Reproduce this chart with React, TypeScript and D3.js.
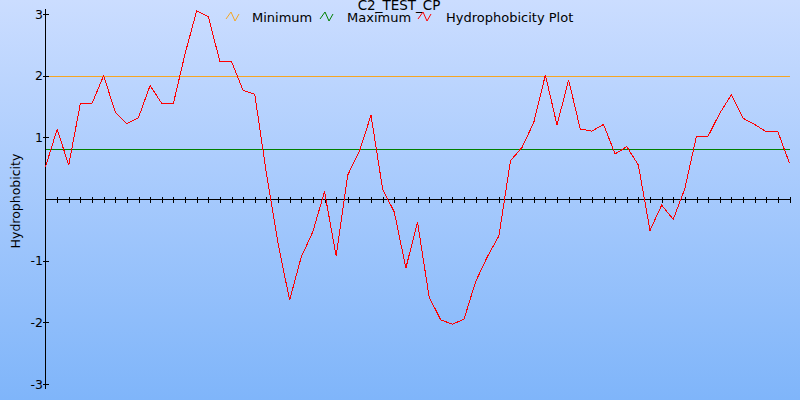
import React from "react";
import * as d3 from "d3";

const title = "C2_TEST_CP";
const yAxisLabel = "Hydrophobicity";
const legendLabels = ["Minimum", "Maximum", "Hydrophobicity Plot"];
const legendColors = ["#f5a623", "#008000", "#ff0000"];
const yTicks = [-3, -2, -1, 1, 2, 3];
const minimumLevel = 2.0;
const maximumLevel = 0.81;
const hydrophobicity = [
  0.52, 1.13, 0.55, 1.55, 1.55, 2.0, 1.41, 1.22, 1.32, 1.84,
  1.55, 1.55, 2.35, 3.05, 2.96, 2.23, 2.23, 1.76, 1.7, 0.42,
  -0.72, -1.64, -0.94, -0.53, 0.12, -0.92, 0.39, 0.77, 1.36, 0.16,
  -0.21, -1.12, -0.37, -1.59, -1.96, -2.03, -1.95, -1.34, -0.94, -0.6,
  0.62, 0.84, 1.24, 2.01, 1.2, 1.93, 1.135, 1.1, 1.21, 0.73,
  0.85, 0.55, -0.51, -0.1, -0.33, 0.17, 1.02, 1.02, 1.39, 1.69,
  1.31, 1.21, 1.09, 1.09, 0.58,
];

const W = 800;
const H = 400;
const FONT = "DejaVu Sans, Verdana, sans-serif";

export default function App() {
  const n = hydrophobicity.length;
  const x = d3.scaleLinear().domain([0, n - 1]).range([45.5, 789.5]);
  const y = d3.scaleLinear().domain([-3, 3]).range([384, 14]);
  const line = d3
    .line<number>()
    .x((_, i) => x(i))
    .y((d) => y(d));
  const y0 = Math.round(y(0)) + 0.5;
  const axisX = 45.5;
  const legendX = [226, 320, 418];
  const legendTextX = [252, 347, 446];
  const zig = (x0: number) =>
    `M${x0},19 L${x0 + 5},12 L${x0 + 9},21 L${x0 + 13},14`;

  return (
    <svg
      width={W}
      height={H}
      style={{ position: "absolute", left: 0, top: 0, display: "block" }}
      fontFamily={FONT}
    >
      <defs>
        <linearGradient id="bg" x1="0" y1="0" x2="0" y2="1">
          <stop offset="0%" stopColor="#cbddff" />
          <stop offset="100%" stopColor="#7fb5fa" />
        </linearGradient>
      </defs>
      <rect x={0} y={0} width={W} height={H} fill="url(#bg)" />

      {/* threshold lines */}
      <line
        x1={axisX}
        x2={x(n - 1)}
        y1={Math.round(y(minimumLevel)) + 0.5}
        y2={Math.round(y(minimumLevel)) + 0.5}
        stroke="#f5a623"
        strokeWidth={1}
        shapeRendering="crispEdges"
      />
      <line
        x1={axisX}
        x2={x(n - 1)}
        y1={Math.round(y(maximumLevel)) + 0.5}
        y2={Math.round(y(maximumLevel)) + 0.5}
        stroke="#008000"
        strokeWidth={1}
        shapeRendering="crispEdges"
      />

      {/* zero axis */}
      <line
        x1={axisX}
        x2={x(n - 1)}
        y1={y0}
        y2={y0}
        stroke="#000"
        shapeRendering="crispEdges"
      />
      {d3.range(1, n).map((i) => (
        <line
          key={i}
          x1={Math.round(x(i)) + 0.5}
          x2={Math.round(x(i)) + 0.5}
          y1={y0 - 3}
          y2={y0 + 3}
          stroke="#000"
          shapeRendering="crispEdges"
        />
      ))}

      {/* y axis */}
      <line
        x1={axisX}
        x2={axisX}
        y1={9}
        y2={389}
        stroke="#000"
        shapeRendering="crispEdges"
      />
      {yTicks.map((t) => (
        <g key={t}>
          <line
            x1={axisX - 3}
            x2={axisX + 3}
            y1={Math.round(y(t)) + 0.5}
            y2={Math.round(y(t)) + 0.5}
            stroke="#000"
            shapeRendering="crispEdges"
          />
          <text
            x={43}
            y={y(t)}
            dy="0.36em"
            textAnchor="end"
            fontSize={12.5}
            fill="#000"
          >
            {t}
          </text>
        </g>
      ))}
      <text
        transform={`translate(20,${y(0) + 2}) rotate(-90)`}
        textAnchor="middle"
        fontSize={12.5}
        fill="#000"
      >
        {yAxisLabel}
      </text>

      {/* data line */}
      <path
        d={line(hydrophobicity) || ""}
        fill="none"
        stroke="#ff0000"
        strokeWidth={1}
        shapeRendering="crispEdges"
      />

      {/* title */}
      <text x={399} y={9.5} textAnchor="middle" fontSize={13.5} fill="#000">
        {title}
      </text>

      {/* legend */}
      {legendLabels.map((lab, i) => (
        <g key={lab}>
          <path
            d={zig(legendX[i])}
            fill="none"
            stroke={legendColors[i]}
            strokeWidth={1}
          />
          <text x={legendTextX[i]} y={22} fontSize={13} fill="#000">
            {lab}
          </text>
        </g>
      ))}
    </svg>
  );
}
